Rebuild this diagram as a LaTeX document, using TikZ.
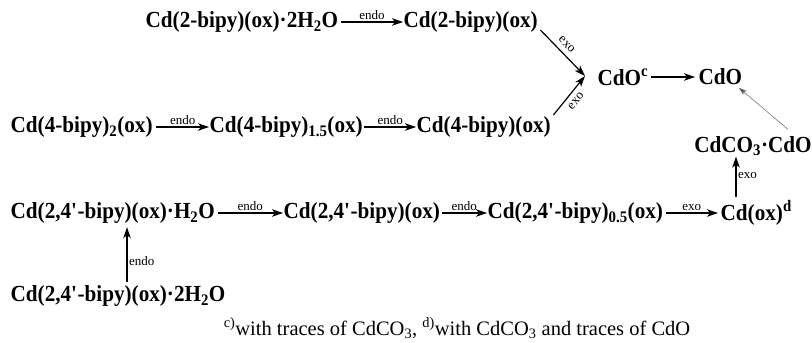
\documentclass[tikz,border=0pt]{standalone}
\usepackage{fontspec}
\setmainfont{Liberation Serif}
\newfontfamily\chemfam{Liberation Serif}[FakeStretch=0.92]
\usetikzlibrary{arrows.meta}
\newcommand{\chemfont}{\chemfam\fontsize{23}{26}\selectfont\bfseries}
\newcommand{\labfont}{\fontsize{13}{14}\selectfont}
\newcommand{\notefont}{\fontsize{20.5}{23}\selectfont}
\begin{document}
\begin{tikzpicture}[x=1pt,y=-1pt,
  chem/.style={font=\chemfont, inner sep=0.5pt, anchor=west},
  lab/.style={font=\labfont, inner sep=1.5pt},
  slab/.style={font=\labfont, inner sep=1pt, sloped},
  rx/.style={-{Stealth[length=11pt,width=7.5pt,inset=3pt]}, line width=1.2pt},
  thinrx/.style={-{Stealth[length=8pt,width=5pt,inset=2pt]}, line width=0.45pt, draw=gray!70!black}]
\useasboundingbox (0,0) rectangle (812,343);
% nodes
\node[chem] (a1) at (145,22) {Cd(2-bipy)(ox)·2H\textsubscript{2}O};
\node[chem] (a2) at (403,22) {Cd(2-bipy)(ox)};
\node[chem] (b1) at (10,127) {Cd(4-bipy)\textsubscript{2}(ox)};
\node[chem] (b2) at (209,127) {Cd(4-bipy)\textsubscript{1.5}(ox)};
\node[chem] (b3) at (416,127) {Cd(4-bipy)(ox)};
\node[chem] (c1) at (597,77) {CdO\textsuperscript{c}};
\node[chem] (c2) at (698,77) {CdO};
\node[chem, anchor=center] (d) at (753,146) {CdCO\textsubscript{3}·CdO};
\node[chem] (e1) at (10,213) {Cd(2,4\textquotesingle-bipy)(ox)·H\textsubscript{2}O};
\node[chem] (e2) at (283,213) {Cd(2,4\textquotesingle-bipy)(ox)};
\node[chem] (e3) at (487,213) {Cd(2,4\textquotesingle-bipy)\textsubscript{0.5}(ox)};
\node[chem] (e4) at (720,213) {Cd(ox)\textsuperscript{d}};
\node[chem] (f) at (10,296) {Cd(2,4\textquotesingle-bipy)(ox)·2H\textsubscript{2}O};
\node[font=\notefont, inner sep=0pt] (note) at (457,328) {\textsuperscript{c)}with traces of CdCO\textsubscript{3}, \textsuperscript{d)}with CdCO\textsubscript{3} and traces of CdO};
\coordinate (tip) at ([xshift=-12pt,yshift=1pt]c1.west);
% connectors
\draw[rx] ([xshift=2pt]a1.east) -- node[lab, above] {endo} (a2.west);
\draw[rx] ([xshift=2pt,yshift=-8pt]a2.east) -- node[slab, above, pos=0.45, yshift=4pt] {exo} (tip);
\draw[rx] ([xshift=2pt,yshift=12pt]b3.east) -- node[slab, below, pos=0.5, yshift=-4pt] {exo} (tip);
\draw[rx] ([xshift=3pt]b1.east) -- node[lab, above] {endo} (b2.west);
\draw[rx] ([xshift=1pt]b2.east) -- node[lab, above] {endo} (b3.west);
\draw[rx] ([xshift=2pt]c1.east) -- ([xshift=-3pt]c2.west);
\draw[thinrx] ([xshift=35pt,yshift=6pt]d.north) -- ([xshift=-4pt,yshift=-2pt]c2.south east);
\draw[rx] ([xshift=2pt]e1.east) -- node[lab, above] {endo} (e2.west);
\draw[rx] ([xshift=1pt]e2.east) -- node[lab, above] {endo} (e3.west);
\draw[rx] ([xshift=2pt]e3.east) -- node[lab, above] {exo} ([xshift=-2pt]e4.west);
\draw[rx, shorten >=3pt] ([xshift=16pt,yshift=3pt]e4.north west) -- node[lab, right] {exo} ([xshift=16pt,yshift=3pt]e4.north west |- d.south);
\draw[rx, shorten <=3pt, shorten >=3pt] ([xshift=117pt]f.north west) -- node[lab, right, pos=0.4] {endo} ([xshift=117pt]f.north west |- e1.south);
\end{tikzpicture}
\end{document}
